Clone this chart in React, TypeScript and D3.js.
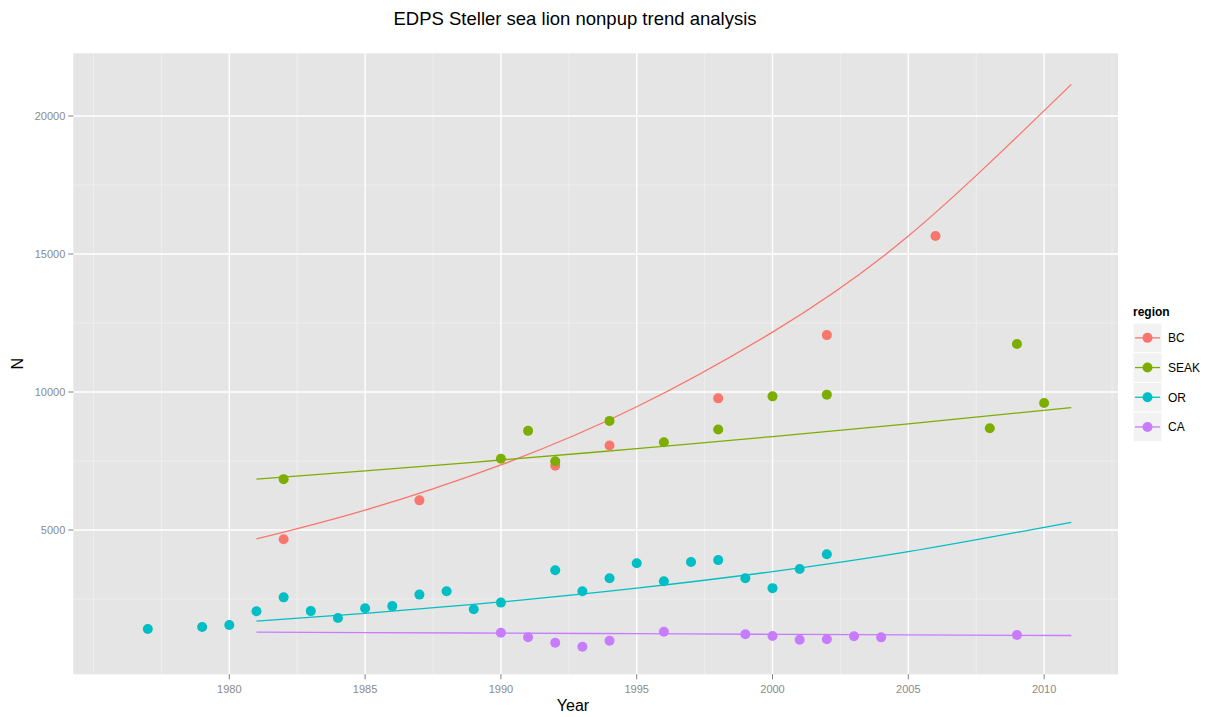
import React from 'react';
import * as d3 from 'd3';

// observed counts per region
const bcYears = [1982, 1987, 1992, 1994, 1998, 2002, 2006];
const bcN = [4664, 6074, 7328, 8061, 9770, 12062, 15650];

const seakYears = [1982, 1990, 1991, 1992, 1994, 1996, 1998, 2000, 2002, 2008, 2009, 2010];
const seakN = [6843, 7580, 8592, 7494, 8954, 8181, 8640, 9843, 9904, 8686, 11737, 9604];

const orYears = [1977, 1979, 1980, 1981, 1982, 1983, 1984, 1985, 1986, 1987, 1988, 1989, 1990,
  1992, 1993, 1994, 1995, 1996, 1997, 1998, 1999, 2000, 2001, 2002];
const orN = [1411, 1484, 1560, 2055, 2560, 2062, 1815, 2165, 2243, 2660, 2784, 2128, 2370,
  3544, 2784, 3255, 3797, 3146, 3840, 3910, 3255, 2893, 3585, 4122];

const caYears = [1990, 1991, 1992, 1993, 1994, 1996, 1999, 2000, 2001, 2002, 2003, 2004, 2009];
const caN = [1278, 1115, 916, 772, 989, 1314, 1220, 1158, 1025, 1039, 1148, 1111, 1195];

// fitted trend curves
const trendYears = [1981, 1985, 1990, 1995, 2000, 2005, 2011];
const bcTrend = [4675, 5720, 7360, 9465, 12170, 15650, 21145];
const seakTrend = [6843, 7143, 7536, 7950, 8387, 8848, 9435];
const orTrend = [1700, 1980, 2393, 2892, 3491, 4214, 5278];
const caTrend = [1303, 1285, 1264, 1243, 1222, 1203, 1177];

const regions = ['BC', 'SEAK', 'OR', 'CA'];
const colors = ['#F8766D', '#7CAE00', '#00BFC4', '#C77CFF'];

const xTicks = [1980, 1985, 1990, 1995, 2000, 2005, 2010];
const xMinor = [1975, 1977.5, 1982.5, 1987.5, 1992.5, 1997.5, 2002.5, 2007.5, 2012.5];
const yTicks = [5000, 10000, 15000, 20000];
const yMinor = [2500, 7500, 12500, 17500];

const W = 1212;
const H = 717;
const panel = { left: 73.3, right: 1118, top: 53.3, bottom: 674.3 };
const font = '"Liberation Sans", Arial, Helvetica, sans-serif';

export default function App() {
  const x = d3.scaleLinear().domain([1974.256, 2012.72]).range([panel.left, panel.right]);
  const y = d3.scaleLinear().domain([-228, 22272]).range([panel.bottom, panel.top]);

  const series = [
    { years: bcYears, n: bcN, trend: bcTrend },
    { years: seakYears, n: seakN, trend: seakTrend },
    { years: orYears, n: orN, trend: orTrend },
    { years: caYears, n: caN, trend: caTrend },
  ];

  const line = d3.line<number>()
    .curve(d3.curveNatural)
    .x((_, i) => x(trendYears[i]))
    .y(d => y(d));

  const legendX = 1133;
  const legendTop = 323;
  const keyH = 29.7;
  const keyW = 29;

  return (
    <svg width={W} height={H} style={{ position: 'absolute', left: 0, top: 0 }} fontFamily={font}>
      <rect width={W} height={H} fill="#fff" />
      <text x={575} y={25} textAnchor="middle" fontSize={18.5} fill="#000">
        EDPS Steller sea lion nonpup trend analysis
      </text>

      {/* panel */}
      <rect x={panel.left} y={panel.top} width={panel.right - panel.left}
        height={panel.bottom - panel.top} fill="#E5E5E5" />
      {xMinor.map(t => (
        <line key={'xm' + t} x1={x(t)} x2={x(t)} y1={panel.top} y2={panel.bottom}
          stroke="#F2F2F2" strokeWidth={0.7} />
      ))}
      {yMinor.map(t => (
        <line key={'ym' + t} x1={panel.left} x2={panel.right} y1={y(t)} y2={y(t)}
          stroke="#F2F2F2" strokeWidth={0.7} />
      ))}
      {xTicks.map(t => (
        <line key={'xg' + t} x1={x(t)} x2={x(t)} y1={panel.top} y2={panel.bottom}
          stroke="#fff" strokeWidth={1.4} />
      ))}
      {yTicks.map(t => (
        <line key={'yg' + t} x1={panel.left} x2={panel.right} y1={y(t)} y2={y(t)}
          stroke="#fff" strokeWidth={1.4} />
      ))}

      {/* trend lines */}
      {series.map((s, i) => (
        <path key={'tr' + i} d={line(s.trend) || ''} fill="none" stroke={colors[i]} strokeWidth={1.3} />
      ))}

      {/* points */}
      {series.map((s, i) => (
        <g key={'pt' + i}>
          {s.years.map((yr, j) => (
            <circle key={j} cx={x(yr)} cy={y(s.n[j])} r={5} fill={colors[i]} />
          ))}
        </g>
      ))}

      {/* axes */}
      {xTicks.map(t => (
        <g key={'xt' + t}>
          <line x1={x(t)} x2={x(t)} y1={panel.bottom} y2={panel.bottom + 5} stroke="#7F7F7F" strokeWidth={1} />
          <text x={x(t)} y={panel.bottom + 19} textAnchor="middle" fontSize={11} fill="#8a8a8a">{t}</text>
        </g>
      ))}
      {yTicks.map(t => (
        <g key={'yt' + t}>
          <line x1={panel.left - 5} x2={panel.left} y1={y(t)} y2={y(t)} stroke="#7F7F7F" strokeWidth={1} />
          <text x={panel.left - 8} y={y(t) + 4} textAnchor="end" fontSize={11} fill="#8a8a8a">{t}</text>
        </g>
      ))}
      <text x={573} y={711} textAnchor="middle" fontSize={16} fill="#000">Year</text>
      <text transform={`translate(23,${(panel.top + panel.bottom) / 2}) rotate(-90)`}
        textAnchor="middle" fontSize={16} fill="#000">N</text>

      {/* legend */}
      <text x={legendX} y={316} fontSize={12} fontWeight="bold" fill="#000">region</text>
      {regions.map((r, i) => {
        const ky = legendTop + i * keyH;
        return (
          <g key={'lg' + r}>
            <rect x={legendX} y={ky} width={keyW} height={keyH} fill="#F2F2F2" stroke="#fff" strokeWidth={1} />
            <line x1={legendX + 2} x2={legendX + keyW - 2} y1={ky + keyH / 2} y2={ky + keyH / 2}
              stroke={colors[i]} strokeWidth={1.3} />
            <circle cx={legendX + keyW / 2} cy={ky + keyH / 2} r={5} fill={colors[i]} />
            <text x={1168} y={ky + keyH / 2 + 4.5} fontSize={12} fill="#000">{r}</text>
          </g>
        );
      })}
    </svg>
  );
}
